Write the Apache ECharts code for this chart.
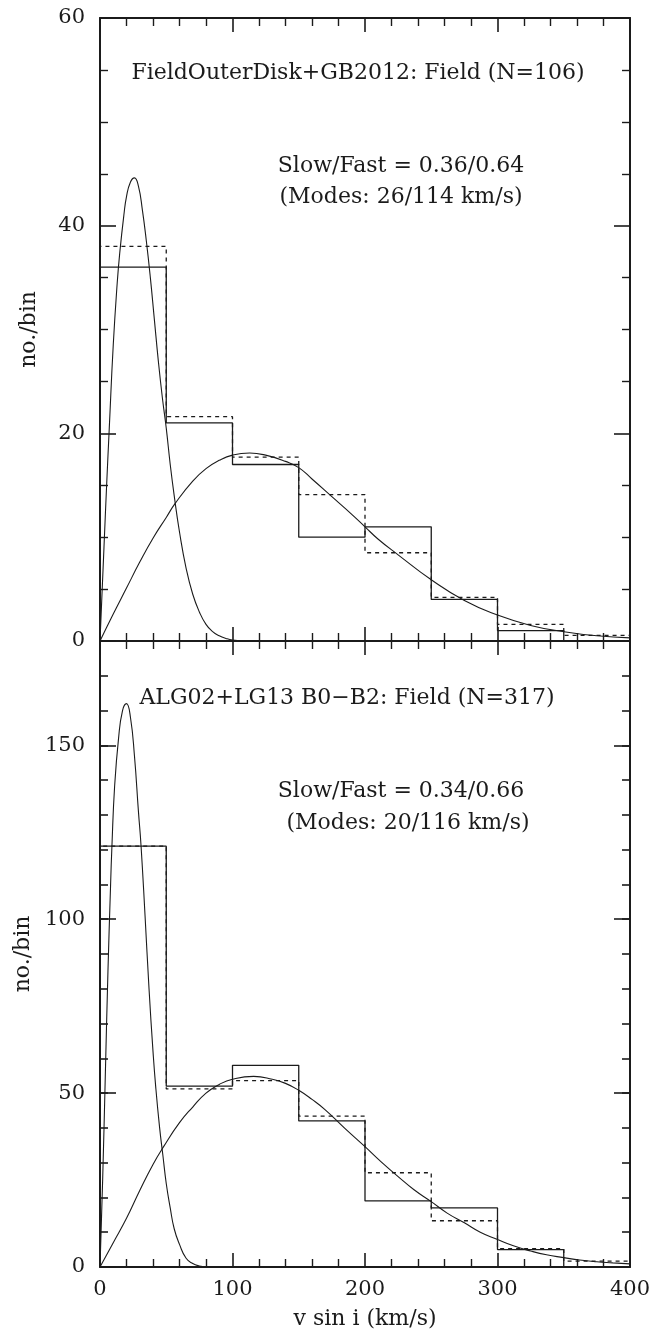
<!DOCTYPE html>
<html>
<head>
<meta charset="utf-8">
<script src="https://cdn.jsdelivr.net/npm/echarts@6/dist/echarts.min.js"></script>
<style>
  html, body { margin: 0; padding: 0; background: #fff; }
  #chart { width: 649px; height: 1332px; }
</style>
</head>
<body>
<div id="chart"></div>
<script>
// v sin i histograms (50 km/s bins) with two-component fits, two samples.
const binEdges = [0, 50, 100, 150, 200, 250, 300, 350, 400];

// Upper panel: FieldOuterDisk+GB2012 field stars
const outerCounts = [36, 21, 17, 10, 11, 4, 1, 0];
const outerModel  = [38, 21.6, 17.7, 14.1, 8.5, 4.2, 1.6, 0.55];
const outerSlowFit = [[0,0],[3,9],[5,15],[7,20.5],[10,28.5],[13,34.5],[15,37.5],[18,41],[20,42.8],[23,44.2],[26,44.6],[29,43.8],[32,41.5],[35,38.5],[38,35],[41,31],[44,27],[47,23.5],[50,20.5],[53,17],[56,14],[60,10.5],[65,7],[70,4.5],[75,2.8],[80,1.6],[85,0.9],[90,0.5],[95,0.25],[100,0.1],[110,0.02],[120,0]];
const outerFastFit = [[0,0],[10,2.6],[20,5.1],[30,7.6],[40,9.9],[50,11.9],[57,13.3],[70,15.4],[80,16.6],[90,17.4],[100,17.9],[113,18.1],[125,17.9],[140,17.3],[150,16.7],[160,15.6],[175,13.9],[190,12.2],[200,11],[210,9.8],[225,8.3],[250,5.9],[275,3.9],[300,2.5],[325,1.5],[350,0.9],[375,0.5],[400,0.3]];

// Lower panel: ALG02+LG13 B0-B2 field stars
const bstarCounts = [121, 52, 58, 42, 19, 17, 5, 0];
const bstarModel  = [121, 51.2, 53.6, 43.4, 27.1, 13.3, 5.3, 1.7];
const bstarSlowFit = [[0,0],[2,25],[4,55],[6,85],[8,110],[9,121],[11,138],[14,152],[17,160],[20,162],[23,158],[26,147],[29,131],[31,121],[34,101],[37,80],[40,62],[42,52],[45,40],[47.5,32],[50,24],[53,17],[56,11],[60,6.5],[65,2.5],[70,1],[75,0.3],[80,0.05],[90,0]];
const bstarFastFit = [[0,0],[10,7],[20,14],[30,22],[40,29.5],[48,34.6],[60,41.5],[70,46],[80,50],[90,52.5],[100,54],[116,54.8],[130,54],[140,52.8],[150,50.8],[160,48.2],[170,45.2],[185,39.8],[200,34.6],[212,30.3],[225,26],[237,22.2],[250,18.8],[262,15.5],[275,12.7],[287,10],[300,7.9],[312,6.1],[325,4.6],[337,3.5],[350,2.7],[362,2],[375,1.5],[387,1.2],[400,0.9]];

// Panel annotations
const outerTitle = 'FieldOuterDisk+GB2012: Field (N=106)';
const outerRatio = 'Slow/Fast = 0.36/0.64';
const outerModes = '(Modes: 26/114 km/s)';
const bstarTitle = 'ALG02+LG13 B0\u2212B2: Field (N=317)';
const bstarRatio = 'Slow/Fast = 0.34/0.66';
const bstarModes = '(Modes: 20/116 km/s)';
const yName = 'no./bin';
const xName = 'v sin i (km/s)';

const FONT = 'DejaVu Serif';
const INK = '#1b1b1b';

// Histogram outline: vertical edges plus flat bin tops
function stepOutline(edges, values) {
  const pts = [[edges[0], 0]];
  for (let i = 0; i < values.length; i++) {
    pts.push([edges[i], values[i]]);
    pts.push([edges[i + 1], values[i]]);
  }
  pts.push([edges[edges.length - 1], 0]);
  return pts;
}

const labelStyle = { fontFamily: FONT, fontSize: 21, color: INK };

function xAxisFor(grid, position, showLabels, showName) {
  return {
    type: 'value', gridIndex: grid, position: position,
    min: 0, max: 400, interval: 100,
    axisLine: { show: true, onZero: false, lineStyle: { color: INK, width: 2 } },
    axisTick: { show: true, inside: true, length: 14, lineStyle: { color: INK, width: 1.6 } },
    minorTick: { show: true, splitNumber: 5, length: 8, lineStyle: { color: INK, width: 1.4 } },
    splitLine: { show: false },
    minorSplitLine: { show: false },
    axisLabel: Object.assign({ show: showLabels, margin: 12 }, labelStyle),
    name: showName ? xName : '',
    nameLocation: 'middle', nameGap: 41,
    nameTextStyle: { fontFamily: FONT, fontSize: 22, color: INK }
  };
}

function yAxisFor(grid, position, max, interval, minorSplit, opts) {
  opts = opts || {};
  return {
    type: 'value', gridIndex: grid, position: position,
    min: 0, max: max, interval: interval,
    axisLine: { show: opts.line !== false, onZero: false, lineStyle: { color: INK, width: 2 } },
    axisTick: { show: true, inside: true, length: opts.tickLen || 16, lineStyle: { color: INK, width: 1.6 } },
    minorTick: { show: minorSplit > 0, splitNumber: minorSplit || 5, length: 8, lineStyle: { color: INK, width: 1.4 } },
    splitLine: { show: false },
    minorSplitLine: { show: false },
    axisLabel: Object.assign({ show: !!opts.labels, margin: 15, showMaxLabel: opts.showMax !== false }, labelStyle),
    name: opts.name ? yName : '',
    nameLocation: 'middle', nameGap: 60,
    nameTextStyle: { fontFamily: FONT, fontSize: 22, color: INK }
  };
}

const upper = { left: 100, top: 18, width: 530, height: 623 };
const lower = { left: 100, top: 641, width: 530, height: 626 };
const gridBase = { containLabel: false, outerBoundsMode: 'none' };

const option = {
  animation: false,
  backgroundColor: '#fff',
  grid: [
    Object.assign({}, gridBase, upper),
    Object.assign({}, gridBase, lower),
    Object.assign({}, gridBase, lower)   // minor y ticks every 10 for the lower panel
  ],
  xAxis: [
    xAxisFor(0, 'bottom', false, false),
    xAxisFor(0, 'top', false, false),
    xAxisFor(1, 'bottom', true, true),
    xAxisFor(1, 'top', false, false),
    { type: 'value', gridIndex: 2, min: 0, max: 400, show: false }
  ],
  yAxis: [
    yAxisFor(0, 'left', 60, 20, 4, { labels: true, name: true }),
    yAxisFor(0, 'right', 60, 20, 4, {}),
    yAxisFor(1, 'left', 180, 50, 0, { labels: true, name: true, showMax: false }),
    yAxisFor(1, 'right', 180, 50, 0, {}),
    yAxisFor(2, 'left', 180, 10, 0, { line: false, tickLen: 8 }),
    yAxisFor(2, 'right', 180, 10, 0, { line: false, tickLen: 8 })
  ],
  series: [
    { type: 'line', xAxisIndex: 0, yAxisIndex: 0, data: stepOutline(binEdges, outerCounts),
      symbol: 'none', lineStyle: { color: INK, width: 1.3 } },
    { type: 'line', xAxisIndex: 0, yAxisIndex: 0, data: stepOutline(binEdges, outerModel),
      symbol: 'none', lineStyle: { color: INK, width: 1.3, type: [4, 4] } },
    { type: 'line', xAxisIndex: 0, yAxisIndex: 0, data: outerSlowFit, smooth: 0.5,
      symbol: 'none', lineStyle: { color: INK, width: 1.1 } },
    { type: 'line', xAxisIndex: 0, yAxisIndex: 0, data: outerFastFit, smooth: 0.5,
      symbol: 'none', lineStyle: { color: INK, width: 1.1 } },

    { type: 'line', xAxisIndex: 2, yAxisIndex: 2, data: stepOutline(binEdges, bstarCounts),
      symbol: 'none', lineStyle: { color: INK, width: 1.3 } },
    { type: 'line', xAxisIndex: 2, yAxisIndex: 2, data: stepOutline(binEdges, bstarModel),
      symbol: 'none', lineStyle: { color: INK, width: 1.3, type: [4, 4] } },
    { type: 'line', xAxisIndex: 2, yAxisIndex: 2, data: bstarSlowFit, smooth: 0.5,
      symbol: 'none', lineStyle: { color: INK, width: 1.1 } },
    { type: 'line', xAxisIndex: 2, yAxisIndex: 2, data: bstarFastFit, smooth: 0.5,
      symbol: 'none', lineStyle: { color: INK, width: 1.1 } }
  ],
  graphic: [
    { type: 'text', x: 358, y: 73, style: { text: outerTitle, font: '22px "DejaVu Serif"', fill: INK, textAlign: 'center', textVerticalAlign: 'middle' } },
    { type: 'text', x: 401, y: 166, style: { text: outerRatio, font: '22px "DejaVu Serif"', fill: INK, textAlign: 'center', textVerticalAlign: 'middle' } },
    { type: 'text', x: 401, y: 197, style: { text: outerModes, font: '22px "DejaVu Serif"', fill: INK, textAlign: 'center', textVerticalAlign: 'middle' } },
    { type: 'text', x: 347, y: 698, style: { text: bstarTitle, font: '22px "DejaVu Serif"', fill: INK, textAlign: 'center', textVerticalAlign: 'middle' } },
    { type: 'text', x: 401, y: 791, style: { text: bstarRatio, font: '22px "DejaVu Serif"', fill: INK, textAlign: 'center', textVerticalAlign: 'middle' } },
    { type: 'text', x: 408, y: 823, style: { text: bstarModes, font: '22px "DejaVu Serif"', fill: INK, textAlign: 'center', textVerticalAlign: 'middle' } }
  ]
};

const chart = echarts.init(document.getElementById('chart'), null, { renderer: 'canvas' });
chart.setOption(option);
</script>
</body>
</html>
